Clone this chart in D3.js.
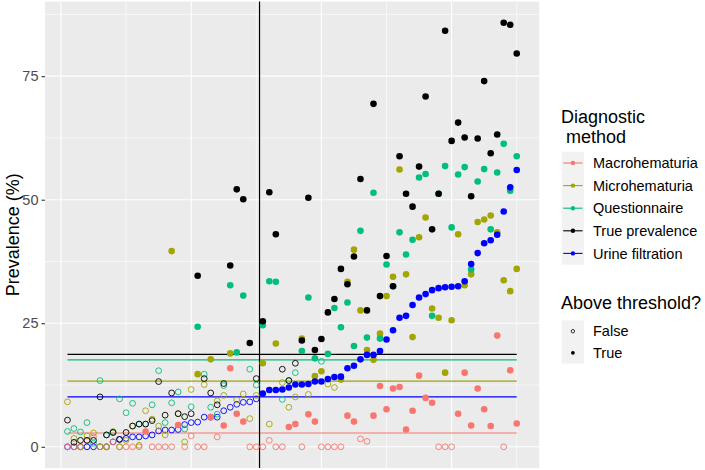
<!DOCTYPE html>
<html><head><meta charset="utf-8">
<script src="https://cdn.jsdelivr.net/npm/d3@7"></script>
<style>
body{margin:0;background:#fff}
svg text{font-family:"Liberation Sans",Arial,Helvetica,sans-serif}
</style>
</head><body>
<svg id="chart" width="705" height="470"></svg>
<script>
// ---- data ----
const methods = ["Macrohematuria","Microhematuria","Questionnaire","True prevalence","Urine filtration"];
const methodColors = ["#F8766D","#A3A500","#00BF7D","#000000","#0000FF"];
const thresholds = [2.8, 13.3, 17.6, 18.7, 10.1];
const sites = d3.range(1, 71);
const macro = [0,0,0,1.3,2.0,0,0,1.0,0,0, 0,0,3.1,0,0,0,0,4.4,0,2.2, 0,0,6.0,2.0,4.3,15.9,6.7,5.1,0,0,
  0,1.3,0,0,4.0,4.6,0,6.6,5.1,0, 0,0,0,6.3,5.1,1.6,1.1,6.3,12.3,7.6, 11.8,12.1,3.5,7.3,14.4,9.9,8.9,0,0,0,
  6.7,15.0,4.3,11.8,7.6,4.2,22.5,0,15.5,4.7];
const micro = [9.1,1.7,0,2.2,2.8,0,0,3.1,0,1.3, 4.2,0.3,7.3,5.6,4.2,2.4,39.6,6.7,1.0,11.6, 14.7,12.6,17.7,9.3,10.4,18.9,9.5,10.7,5.7,10.4,
  16.9,4.6,20.9,13.0,8.0,10.1,21.9,10.6,14.3,15.3, 12.7,12.0,13.6,33.4,39.9,27.6,19.6,17.6,22.9,30.5, 34.4,56.1,34.9,22.2,42.4,46.4,28.0,26.1,15.0,25.6,
  43.0,32.7,34.9,45.5,46.0,46.8,43.4,33.7,31.5,36.0];
const quest = [3.1,3.7,3.0,4.9,0.7,13.4,2.4,2.9,9.7,6.9, 8.8,4.6,4.6,8.5,15.4,4.9,8.9,11.1,3.6,8.1, 24.3,14.7,8.0,6.6,12.4,32.7,19.1,30.6,15.7,12.5,
  24.6,33.5,33.4,9.6,13.4,15.0,19.4,30.2,17.9,17.3, 18.8,28.1,24.2,29.2,20.4,43.7,22.1,51.4,21.9,36.9, 32.5,43.4,38.9,41.9,54.5,55.2,26.5,51.2,56.8,44.4,
  55.1,56.6,35.9,53.7,56.2,44.0,55.5,61.3,51.8,58.8];
const truePrev = [5.4,0.9,1.3,1.3,1.3,10.1,2.4,2.9,1.5,2.9, 4.2,4.6,4.6,5.3,13.2,6.4,10.9,6.7,6.1,6.7, 34.6,13.8,10.9,8.5,12.8,36.7,52.1,50.1,21.0,13.8,
  25.4,51.5,43.0,15.7,13.4,16.9,21.5,50.4,19.6,21.8, 27.2,29.9,36.0,32.9,38.5,54.2,27.6,69.4,30.5,38.6, 32.5,58.8,51.2,48.6,56.7,70.9,44.0,51.2,84.2,61.9,
  65.6,62.6,50.7,62.4,74.0,59.4,63.2,85.8,85.4,79.6];
const urine = [0,0,0,0,0,0,0,1.0,1.5,1.7, 2.0,2.0,2.2,2.4,3.2,3.4,3.4,3.5,4.5,4.9, 5.0,6.0,6.0,6.0,7.3,8.0,8.6,9.0,9.1,9.7,
  10.8,11.5,11.5,11.6,12.0,12.6,12.6,12.7,13.2,13.2, 13.7,14.1,14.2,15.9,16.4,17.7,18.6,18.6,19.4,21.7, 23.6,26.1,26.5,28.7,30.2,30.9,31.7,32.1,32.3,32.4,
  32.5,33.5,37.0,39.2,41.2,41.8,42.9,47.6,52.5,56.0];
const vlineSite = 30.5;
const yTickValues = [0, 25, 50, 75];
const thresholdLabels = ["False", "True"];

// ---- build ----
const seriesValues = [macro, micro, quest, truePrev, urine];
const points = [];
seriesValues.forEach((vals, m) => vals.forEach((v, k) => points.push({
  site: sites[k], value: v, m: m, above: v > thresholds[m]
})));
// open urine-filtration points sit underneath, everything else in legend order
points.sort((a, b) => ((a.m === 4 && !a.above) ? -1 : a.m) - ((b.m === 4 && !b.above) ? -1 : b.m));

const svg = d3.select("#chart");
const P = {left: 45, right: 539.2, top: 1.6, bottom: 468};

const xExt = d3.extent(sites), xPad = (xExt[1] - xExt[0]) * 0.05;
const x = d3.scaleLinear().domain([xExt[0] - xPad, xExt[1] + xPad]).range([P.left, P.right]);
const yExt = [0, d3.max(points, d => d.value)], yPad = (yExt[1] - yExt[0]) * 0.05;
const y = d3.scaleLinear().domain([yExt[0] - yPad, yExt[1] + yPad]).range([P.bottom, P.top]);

// panel
svg.append("rect").attr("x", P.left).attr("y", P.top)
  .attr("width", P.right - P.left).attr("height", P.bottom - P.top).attr("fill", "#EBEBEB");

const g = svg.append("g");
const xMinor = [10, 30, 50, 70], xMajor = [0, 20, 40, 60];
const yMinor = [12.5, 37.5, 62.5, 87.5];
g.selectAll(".xmin").data(xMinor).join("line")
  .attr("x1", d => x(d)).attr("x2", d => x(d)).attr("y1", P.top).attr("y2", P.bottom)
  .attr("stroke", "#fff").attr("stroke-width", 0.6);
g.selectAll(".ymin").data(yMinor).join("line")
  .attr("x1", P.left).attr("x2", P.right).attr("y1", d => y(d)).attr("y2", d => y(d))
  .attr("stroke", "#fff").attr("stroke-width", 0.6);
g.selectAll(".xmaj").data(xMajor).join("line")
  .attr("x1", d => x(d)).attr("x2", d => x(d)).attr("y1", P.top).attr("y2", P.bottom)
  .attr("stroke", "#fff").attr("stroke-width", 1.1);
g.selectAll(".ymaj").data(yTickValues).join("line")
  .attr("x1", P.left).attr("x2", P.right).attr("y1", d => y(d)).attr("y2", d => y(d))
  .attr("stroke", "#fff").attr("stroke-width", 1.1);

// threshold lines
g.selectAll(".thr").data(thresholds).join("line")
  .attr("x1", x(xExt[0])).attr("x2", x(xExt[1]))
  .attr("y1", d => y(d)).attr("y2", d => y(d))
  .attr("stroke", (d, i) => methodColors[i]).attr("stroke-width", 1.1);

// vertical line
g.append("line").attr("x1", x(vlineSite)).attr("x2", x(vlineSite))
  .attr("y1", P.top).attr("y2", P.bottom).attr("stroke", "#000").attr("stroke-width", 1.2);

// points
g.selectAll(".pt").data(points).join("circle")
  .attr("cx", d => x(d.site)).attr("cy", d => y(d.value))
  .attr("r", d => d.above ? 3.3 : 2.9)
  .attr("fill", d => d.above ? methodColors[d.m] : "none")
  .attr("stroke", d => methodColors[d.m])
  .attr("stroke-width", d => d.above ? 0 : 0.9);

// y axis
const ax = svg.append("g").attr("transform", `translate(${P.left},0)`)
  .call(d3.axisLeft(y).tickValues(yTickValues).tickSize(3.5).tickPadding(3));
ax.select(".domain").remove();
ax.selectAll(".tick line").attr("stroke", "#333333").attr("stroke-width", 1.1);
ax.selectAll(".tick text").attr("fill", "#4D4D4D").style("font-size", "14.5px");

svg.append("text").attr("transform", `translate(18.5,${(P.top + P.bottom) / 2}) rotate(-90)`)
  .attr("text-anchor", "middle").style("font-size", "18px").attr("fill", "#000")
  .text("Prevalence (%)");

// legend: colour
const L = svg.append("g");
L.append("text").attr("x", 561).attr("y", 123).style("font-size", "18px").text("Diagnostic");
L.append("text").attr("x", 561).attr("y", 143).style("font-size", "18px").text("\u00a0method");
const keyTop = 151.7, keyH = 22.6, keyX = 561.7, keyW = 22.4;
L.append("rect").attr("x", keyX).attr("y", keyTop).attr("width", keyW).attr("height", keyH * methods.length).attr("fill", "#F2F2F2");
methods.forEach((name, i) => {
  const cy = keyTop + keyH * (i + 0.5);
  L.append("line").attr("x1", keyX + 1.5).attr("x2", keyX + keyW - 1.5).attr("y1", cy).attr("y2", cy)
    .attr("stroke", methodColors[i]).attr("stroke-width", 1.1);
  L.append("circle").attr("cx", keyX + keyW / 2).attr("cy", cy).attr("r", 2.2).attr("fill", methodColors[i]);
  L.append("text").attr("x", 593).attr("y", cy + 5.2).style("font-size", "14.5px").attr("fill", "#000").text(name);
});

// legend: shape
L.append("text").attr("x", 561).attr("y", 309).style("font-size", "18px").text("Above threshold?");
const sTop = 320.4, sH = 21.6;
L.append("rect").attr("x", keyX).attr("y", sTop).attr("width", keyW).attr("height", sH * 2).attr("fill", "#F2F2F2");
thresholdLabels.forEach((name, i) => {
  const cy = sTop + sH * (i + 0.5);
  L.append("circle").attr("cx", keyX + keyW / 2).attr("cy", cy).attr("r", i ? 1.9 : 1.7)
    .attr("fill", i ? "#000" : "none").attr("stroke", "#000").attr("stroke-width", i ? 0 : 0.8);
  L.append("text").attr("x", 593).attr("y", cy + 5.2).style("font-size", "14.5px").attr("fill", "#000").text(name);
});
</script>
</body></html>
